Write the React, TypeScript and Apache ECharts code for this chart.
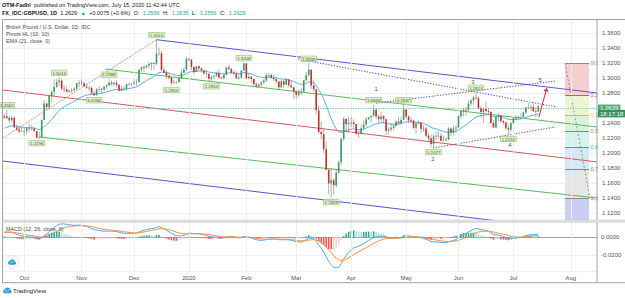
import React, { useEffect, useRef } from "react";
import * as echarts from "echarts";

// ---------- DATA ----------
const FIRST_DATE = "2019-09-19";
const FUTURE_BARS = 23;
const FIRST_OPEN = 1.2475;

const closes = [
  // Sep 2019
  1.2495, 1.2470, 1.2440, 1.2475, 1.2345, 1.2320, 1.2290, 1.2295,
  // Oct
  1.2295, 1.2335, 1.2330, 1.2330, 1.2295, 1.2210, 1.2210, 1.2445, 1.2665, 1.2615, 1.2765, 1.2820, 1.2885, 1.2950, 1.2970, 1.2860, 1.2855, 1.2820, 1.2835, 1.2845, 1.2860, 1.2935, 1.2940,
  // Nov
  1.2935, 1.2890, 1.2875, 1.2870, 1.2800, 1.2775, 1.2855, 1.2855, 1.2850, 1.2890, 1.2905, 1.2940, 1.2925, 1.2940, 1.2910, 1.2835, 1.2860, 1.2860, 1.2925, 1.2920, 1.2930,
  // Dec
  1.2945, 1.2950, 1.3115, 1.3150, 1.3145, 1.3170, 1.3190, 1.3205, 1.3195, 1.3330, 1.3335, 1.3110, 1.3075, 1.3035, 1.3010, 1.2940, 1.2945, 1.2950, 1.3000, 1.3075, 1.3115, 1.3260,
  // Jan 2020
  1.3250, 1.3150, 1.3085, 1.3160, 1.3130, 1.3105, 1.3065, 1.3060, 1.2995, 1.3020, 1.3035, 1.3070, 1.3010, 1.3005, 1.3045, 1.3145, 1.3125, 1.3075, 1.3060, 1.3000, 1.3010, 1.3105, 1.3200,
  // Feb
  1.3000, 1.3020, 1.2990, 1.2920, 1.2895, 1.2915, 1.2945, 1.2970, 1.3045, 1.3045, 1.3005, 1.2990, 1.2960, 1.2880, 1.2960, 1.2915, 1.2985, 1.2905, 1.2880, 1.2825,
  // Mar
  1.2780, 1.2815, 1.2825, 1.2975, 1.3045, 1.3115, 1.2905, 1.2855, 1.2575, 1.2285, 1.2255, 1.2055, 1.1780, 1.1600, 1.1640, 1.1575, 1.1745, 1.1880, 1.2190, 1.2460, 1.2390, 1.2405,
  // Apr
  1.2410, 1.2390, 1.2265, 1.2265, 1.2335, 1.2385, 1.2455, 1.2480, 1.2500, 1.2580, 1.2490, 1.2455, 1.2495, 1.2455, 1.2300, 1.2320, 1.2340, 1.2365, 1.2425, 1.2400, 1.2445, 1.2585,
  // May
  1.2490, 1.2440, 1.2435, 1.2340, 1.2400, 1.2410, 1.2325, 1.2330, 1.2235, 1.2200, 1.2125, 1.2225, 1.2235, 1.2235, 1.2165, 1.2170, 1.2185, 1.2330, 1.2275, 1.2330, 1.2345,
  // Jun
  1.2495, 1.2565, 1.2580, 1.2575, 1.2665, 1.2705, 1.2745, 1.2735, 1.2600, 1.2550, 1.2590, 1.2565, 1.2550, 1.2405, 1.2345, 1.2485, 1.2505, 1.2430, 1.2410, 1.2335, 1.2315, 1.2405,
  // Jul
  1.2470, 1.2470, 1.2485, 1.2485, 1.2545, 1.2610, 1.2615, 1.2620, 1.2560, 1.2556, 1.2629,
];

const highs = [
  1.2530, 1.2582, 1.2500, 1.2500, 1.2490, 1.2385, 1.2355, 1.2345,
  1.2350, 1.2345, 1.2390, 1.2375, 1.2350, 1.2300, 1.2290, 1.2450, 1.2707, 1.2665, 1.2785, 1.2840, 1.2990, 1.2990, 1.3013, 1.3000, 1.2910, 1.2900, 1.2850, 1.2870, 1.2880, 1.2940, 1.2975,
  1.2985, 1.2955, 1.2925, 1.2895, 1.2895, 1.2830, 1.2870, 1.2895, 1.2875, 1.2895, 1.2925, 1.2988, 1.2975, 1.2955, 1.2975, 1.2925, 1.2895, 1.2900, 1.2930, 1.2945, 1.2935,
  1.2985, 1.2990, 1.3120, 1.3155, 1.3175, 1.3180, 1.3215, 1.3215, 1.3215, 1.3515, 1.3400, 1.3365, 1.3150, 1.3110, 1.3065, 1.3010, 1.2980, 1.2960, 1.3020, 1.3120, 1.3145, 1.3285,
  1.3260, 1.3250, 1.3155, 1.3165, 1.3175, 1.3150, 1.3120, 1.3110, 1.3060, 1.3035, 1.3045, 1.3090, 1.3120, 1.3025, 1.3070, 1.3150, 1.3175, 1.3140, 1.3105, 1.3095, 1.3050, 1.3110, 1.3208,
  1.3200, 1.3070, 1.3030, 1.2990, 1.2945, 1.2940, 1.2965, 1.2990, 1.3070, 1.3070, 1.3060, 1.3045, 1.3000, 1.2970, 1.2980, 1.2975, 1.3000, 1.2985, 1.2975, 1.2885,
  1.2835, 1.2855, 1.2875, 1.2980, 1.3085, 1.3200, 1.3120, 1.2985, 1.2860, 1.2640, 1.2425, 1.2330, 1.2160, 1.1790, 1.1810, 1.1670, 1.1790, 1.1915, 1.2205, 1.2485, 1.2455, 1.2485,
  1.2485, 1.2455, 1.2390, 1.2310, 1.2385, 1.2435, 1.2485, 1.2490, 1.2500, 1.2648, 1.2600, 1.2520, 1.2550, 1.2515, 1.2460, 1.2350, 1.2405, 1.2390, 1.2435, 1.2485, 1.2485, 1.2647,
  1.2585, 1.2505, 1.2480, 1.2450, 1.2415, 1.2440, 1.2420, 1.2375, 1.2350, 1.2275, 1.2250, 1.2260, 1.2295, 1.2295, 1.2270, 1.2240, 1.2210, 1.2350, 1.2350, 1.2370, 1.2375,
  1.2510, 1.2585, 1.2595, 1.2615, 1.2710, 1.2730, 1.2770, 1.2813, 1.2760, 1.2630, 1.2590, 1.2690, 1.2605, 1.2560, 1.2450, 1.2490, 1.2540, 1.2505, 1.2450, 1.2420, 1.2370, 1.2410,
  1.2480, 1.2510, 1.2500, 1.2530, 1.2550, 1.2615, 1.2670, 1.2650, 1.2670, 1.2610, 1.2635,
];

const lows = [
  1.2455, 1.2455, 1.2405, 1.2425, 1.2340, 1.2295, 1.2270, 1.2285,
  1.2230, 1.2255, 1.2290, 1.2305, 1.2290, 1.2196, 1.2205, 1.2205, 1.2440, 1.2580, 1.2600, 1.2680, 1.2760, 1.2875, 1.2900, 1.2840, 1.2810, 1.2815, 1.2805, 1.2805, 1.2820, 1.2840, 1.2880,
  1.2900, 1.2880, 1.2855, 1.2830, 1.2790, 1.2768, 1.2770, 1.2820, 1.2800, 1.2825, 1.2860, 1.2895, 1.2905, 1.2895, 1.2880, 1.2820, 1.2825, 1.2830, 1.2840, 1.2905, 1.2895,
  1.2905, 1.2900, 1.2945, 1.3090, 1.3085, 1.3130, 1.3120, 1.3110, 1.3120, 1.3175, 1.3295, 1.3100, 1.3065, 1.2995, 1.2990, 1.2905, 1.2920, 1.2930, 1.2935, 1.2990, 1.3070, 1.3100,
  1.3230, 1.3110, 1.3050, 1.3080, 1.3110, 1.3075, 1.3050, 1.3010, 1.2960, 1.2954, 1.2990, 1.3015, 1.3000, 1.2990, 1.2980, 1.3040, 1.3110, 1.3060, 1.3045, 1.2995, 1.2975, 1.2990, 1.3100,
  1.2990, 1.2985, 1.2935, 1.2905, 1.2870, 1.2870, 1.2890, 1.2925, 1.2950, 1.3000, 1.3000, 1.2970, 1.2925, 1.2850, 1.2870, 1.2870, 1.2910, 1.2890, 1.2870, 1.2725,
  1.2725, 1.2750, 1.2775, 1.2815, 1.2965, 1.3020, 1.2855, 1.2815, 1.2520, 1.2260, 1.2185, 1.2000, 1.1780, 1.1450, 1.1409, 1.1450, 1.1540, 1.1720, 1.1840, 1.2165, 1.2300, 1.2285,
  1.2350, 1.2340, 1.2240, 1.2205, 1.2250, 1.2300, 1.2355, 1.2440, 1.2410, 1.2490, 1.2455, 1.2405, 1.2415, 1.2400, 1.2245, 1.2250, 1.2290, 1.2310, 1.2355, 1.2390, 1.2380, 1.2440,
  1.2460, 1.2405, 1.2400, 1.2320, 1.2265, 1.2385, 1.2265, 1.2285, 1.2210, 1.2165, 1.2080, 1.2077, 1.2175, 1.2205, 1.2165, 1.2160, 1.2165, 1.2175, 1.2230, 1.2240, 1.2275,
  1.2340, 1.2460, 1.2495, 1.2500, 1.2560, 1.2635, 1.2645, 1.2710, 1.2595, 1.2480, 1.2410, 1.2540, 1.2515, 1.2395, 1.2335, 1.2335, 1.2425, 1.2410, 1.2380, 1.2320, 1.2252, 1.2290,
  1.2395, 1.2440, 1.2455, 1.2465, 1.2480, 1.2525, 1.2590, 1.2560, 1.2555, 1.2480, 1.2556,
];

// Pivots HL (10,10): bar indices of labelled pivot highs / lows
const pivotHighIdx = [1, 22, 42, 61, 96, 122, 148, 160, 189];
const pivotLowIdx = [13, 36, 67, 83, 131, 172, 202];

// indicator seeds (state of the averages before the first visible bar)
const EMA21_SEED = 1.232;
const EMA12_SEED = 1.2385;
const EMA26_SEED = 1.233;
const SIGNAL_SEED = 0.0048;

// drawings anchored in (bar index, price): [bar1, price1, bar2, price2]
const channelTop = [61, 1.3515, 237.5, 1.2804];
const channelMid = [-0.5, 1.2844, 237.5, 1.1885];
const channelBottom = [-0.5, 1.1897, 237.5, 1.0938];
const redDiagonal = [-0.5, 1.2204, 61, 1.3515];
const greenUpper = [40.4, 1.3124, 237.5, 1.2351];
const greenLower = [14.3, 1.2217, 237.5, 1.1404];
const dottedA = [117.7, 1.3257, 221.5, 1.2617];
const dottedB = [149.0, 1.2669, 220.7, 1.2963];
const dottedC = [171.8, 1.2071, 220.7, 1.2351];
const arrowLine = [214.2, 1.2484, 217.4, 1.2871];
const fibBars = [224.7, 234.3];
const fibHigh = 1.32;
const fibLow = 1.14;
const fibLevels = [0, 0.236, 0.382, 0.5, 0.618, 0.786, 1, 1.618];
const fibLabels = ["0(1", "0.2", "0.3", "0.5", "0.6", "0.7", "1(1", ""];
const fibTrend = [224.7, 1.32, 234.7, 1.1404];
const waveNames = ["1", "2", "3", "4", "5"];
const waveBars = [149, 171.8, 187.8, 202.6, 214.7];
const wavePrices = [1.2857, 1.1924, 1.2945, 1.2111, 1.2977];

const MONTHS = ["2020", "Feb", "Mar", "Apr", "May", "Jun", "Jul", "Aug", "Sep", "Oct", "Nov", "Dec"];

// ---------- STYLE ----------
const FONT = '"Liberation Sans", Arial, sans-serif';
const AXIS_TXT = "#50535e";
const UP = "#3f9a62";
const DOWN = "#c8312c";
const WICK = "#7d7d7d";
const FRAME = "#a3a3a3";
const Y_MIN = 1.1111;
const Y_MAX = 1.3791;
const M_MIN = -0.0389;
const M_MAX = 0.0173;

const fibLineColors = ["#8c8c8c", "#e0524f", "#b2cc3a", "#4caf50", "#22b59c", "#3d98de", "#8c8c8c", "#5b5bd6"];
const fibZoneColors = ["#f6cfd1", "#ecf6d2", "#daf3dd", "#d6f2ec", "#d6e8f6", "#e6e6e6", "#cccdf2"];

const CLOUD =
  "M3 8C1.3 8 0 6.8 0 5.3C0 3.9 1.1 2.8 2.5 2.7C3.1 1.1 4.6 0 6.4 0C8.6 0 10.3 1.6 10.5 3.7C11.4 4 12 4.9 12 5.9C12 7.1 11.1 8 9.9 8Z";
echarts.graphic.registerShape("tvCloud", echarts.graphic.extendPath(CLOUD, {}) as any);

function buildDates(n: number): string[] {
  const out: string[] = [];
  let t = Date.parse(FIRST_DATE + "T00:00:00Z");
  while (out.length < n) {
    const wd = new Date(t).getUTCDay();
    if (wd !== 0 && wd !== 6) out.push(new Date(t).toISOString().slice(0, 10));
    t += 86400000;
  }
  return out;
}

function lineSeries(seg: number[], color: string, type: any, width = 1, z = 4) {
  return {
    type: "line",
    xAxisIndex: 0,
    yAxisIndex: 0,
    data: [
      [seg[0], seg[1]],
      [seg[2], seg[3]],
    ],
    showSymbol: false,
    symbol: "none",
    silent: true,
    z,
    lineStyle: { color, width, type },
    clip: true,
  };
}

function buildOption() {
  const n = closes.length;
  const total = n + FUTURE_BARS;
  const dates = buildDates(total);
  const opens = closes.map((c, i) => (i === 0 ? FIRST_OPEN : closes[i - 1]));
  const candles = closes.map((c, i) => [i, opens[i], c, lows[i], highs[i]]);
  const last = closes[n - 1];

  // EMA 21
  const ema: number[][] = [];
  let e = EMA21_SEED;
  const k21 = 2 / 22;
  closes.forEach((c, i) => {
    e = e + k21 * (c - e);
    ema.push([i, e]);
  });

  // MACD 12 26 9
  let e12 = EMA12_SEED,
    e26 = EMA26_SEED,
    sig = SIGNAL_SEED;
  const macd: number[] = [];
  const signal: number[] = [];
  const hist: any[] = [];
  closes.forEach((c, i) => {
    e12 = e12 + (2 / 13) * (c - e12);
    e26 = e26 + (2 / 27) * (c - e26);
    const m = e12 - e26;
    sig = sig + (2 / 10) * (m - sig);
    const h = m - sig;
    macd.push(m);
    signal.push(sig);
    const hPrev = i === 0 ? 0 : hist[i - 1].value;
    let col;
    if (h >= 0) col = h > hPrev ? "#26a69a" : "#b2dfdb";
    else col = h > hPrev ? "#ffcdd2" : "#ff5252";
    hist.push({ value: h, itemStyle: { color: col } });
  });

  const monthStarts: number[] = [];
  for (let i = 1; i < dates.length; i++) {
    if (dates[i].slice(5, 7) !== dates[i - 1].slice(5, 7)) monthStarts.push(i);
  }
  const monthSet = new Set(monthStarts);
  const monthLabel = (v: string) => MONTHS[parseInt(v.slice(5, 7), 10) - 1];

  // Fib zones / lines
  const fibPrice = (lv: number) => fibHigh - lv * (fibHigh - fibLow);
  const fibAreas: any[] = [];
  for (let i = 0; i < fibLevels.length - 1; i++) {
    fibAreas.push([
      { xAxis: fibBars[0], yAxis: fibPrice(fibLevels[i]), itemStyle: { color: fibZoneColors[i] } },
      { xAxis: fibBars[1], yAxis: Math.max(Y_MIN, fibPrice(fibLevels[i + 1])) },
    ]);
  }
  const fibLines: any[] = [];
  for (let i = 0; i < fibLevels.length - 1; i++) {
    const p = fibPrice(fibLevels[i]);
    fibLines.push([
      {
        coord: [fibBars[0], p],
        lineStyle: { color: fibLineColors[i], width: 1, type: "solid" },
        label: { show: true, formatter: fibLabels[i], color: fibLineColors[i], fontSize: 5.5, fontFamily: FONT, position: "end", distance: 1.5 },
      },
      { coord: [fibBars[1], p] },
    ]);
  }

  const pivotLabel = {
    show: true,
    fontSize: 4.4,
    fontFamily: FONT,
    color: "#1e3312",
    backgroundColor: "#d3ebbd",
    borderColor: "#86b85c",
    borderWidth: 0.5,
    padding: [0.8, 1, 0.3, 1],
    formatter: (p: any) => p.value[1].toFixed(4),
  };

  const txt = (text: string, x: number, y: number, size: number, color: string, extra: any = {}) => ({
    type: "text",
    x,
    y,
    silent: true,
    z: 50,
    style: { text, fill: color, font: `${size}px ${FONT}`, textVerticalAlign: "middle", ...extra },
  });
  const ln = (x1: number, y1: number, x2: number, y2: number, color = FRAME, w = 1) => ({
    type: "line",
    silent: true,
    z: 40,
    shape: { x1, y1, x2, y2 },
    style: { stroke: color, lineWidth: w },
  });

  return {
    animation: false,
    backgroundColor: "#ffffff",
    textStyle: { fontFamily: FONT },
    grid: [
      { left: 3, right: 28, top: 19, height: 201 },
      { left: 3, right: 28, top: 222, height: 49.7 },
    ],
    xAxis: [
      { type: "value", gridIndex: 0, min: -0.5, max: total - 0.5, show: false },
      {
        type: "category",
        gridIndex: 1,
        data: dates,
        boundaryGap: true,
        axisLine: { show: true, lineStyle: { color: FRAME, width: 1 } },
        axisTick: { show: true, interval: (i: number) => monthSet.has(i), length: 2, alignWithLabel: true, lineStyle: { color: FRAME } },
        axisLabel: {
          interval: (i: number) => monthSet.has(i),
          formatter: (v: string) => monthLabel(v),
          fontSize: 6,
          color: AXIS_TXT,
          margin: 3,
          fontFamily: FONT,
        },
        splitLine: { show: false },
      },
    ],
    yAxis: [
      {
        type: "value",
        gridIndex: 0,
        position: "right",
        min: Y_MIN,
        max: Y_MAX,
        splitNumber: 13,
        minInterval: 0.02,
        maxInterval: 0.02,
        axisLine: { show: false },
        axisTick: { show: false },
        axisLabel: {
          fontSize: 6,
          color: AXIS_TXT,
          margin: 5,
          fontFamily: FONT,
          showMinLabel: false,
          showMaxLabel: false,
          // the tick hidden under the last-price tag is not drawn
          formatter: (v: number) => (Math.abs(v - last) < 0.008 ? "" : v.toFixed(4)),
        },
        splitLine: { show: true, lineStyle: { color: "#eff1f5", width: 1 } },
      },
      {
        type: "value",
        gridIndex: 1,
        position: "right",
        min: M_MIN,
        max: M_MAX,
        splitNumber: 3,
        minInterval: 0.02,
        maxInterval: 0.02,
        axisLine: { show: false },
        axisTick: { show: false },
        axisLabel: { fontSize: 6, color: AXIS_TXT, margin: 4, fontFamily: FONT, showMinLabel: false, showMaxLabel: false, formatter: (v: number) => v.toFixed(4) },
        splitLine: { show: true, lineStyle: { color: "#eff1f5", width: 1 } },
      },
    ],
    series: [
      // month grid lines + fib zones (background)
      {
        type: "line",
        xAxisIndex: 0,
        yAxisIndex: 0,
        data: [],
        z: 1,
        silent: true,
        markLine: {
          silent: true,
          symbol: "none",
          label: { show: false },
          lineStyle: { color: "#eceef2", width: 1, type: "solid" },
          data: monthStarts.map((i) => ({ xAxis: i })),
        },
        markArea: { silent: true, data: fibAreas },
      },
      {
        type: "line",
        xAxisIndex: 0,
        yAxisIndex: 0,
        data: [],
        z: 2,
        silent: true,
        markLine: { silent: true, symbol: "none", data: fibLines },
      },
      // channels / trend lines
      lineSeries(channelTop, "#5757c9", "solid"),
      lineSeries(channelBottom, "#5757c9", "solid"),
      lineSeries(channelMid, "#d05a5a", "solid"),
      lineSeries(redDiagonal, "#e06a6a", [2, 1], 0.8),
      lineSeries(greenUpper, "#5cb860", "solid"),
      lineSeries(greenLower, "#5cb860", "solid"),
      lineSeries(fibTrend, "#7a7a7a", [2, 2], 0.8),
      lineSeries(dottedA, "#3f3fe6", [1.2, 1.6]),
      lineSeries(dottedB, "#3f3fe6", [1.2, 1.6]),
      lineSeries(dottedC, "#3f3fe6", [1.2, 1.6]),
      // EMA
      {
        type: "line",
        xAxisIndex: 0,
        yAxisIndex: 0,
        data: ema,
        showSymbol: false,
        symbol: "none",
        silent: true,
        z: 5,
        lineStyle: { color: "#5ab0ef", width: 1 },
      },
      // candles
      {
        type: "custom",
        xAxisIndex: 0,
        yAxisIndex: 0,
        z: 6,
        silent: true,
        clip: true,
        encode: { x: 0, y: [1, 2, 3, 4] },
        data: candles,
        renderItem: (params: any, api: any) => {
          const i = api.value(0);
          const o = api.value(1);
          const c = api.value(2);
          const l = api.value(3);
          const h = api.value(4);
          const top = api.coord([i, Math.max(o, c)]);
          const bot = api.coord([i, Math.min(o, c)]);
          const hi = api.coord([i, h]);
          const lo = api.coord([i, l]);
          const bw = api.size([1, 0])[0] * 0.64;
          const col = c >= o ? UP : DOWN;
          return {
            type: "group",
            children: [
              { type: "line", shape: { x1: hi[0], y1: hi[1], x2: lo[0], y2: lo[1] }, style: { stroke: WICK, lineWidth: 0.6 } },
              {
                type: "rect",
                shape: { x: top[0] - bw / 2, y: top[1], width: bw, height: Math.max(0.6, bot[1] - top[1]) },
                style: { fill: col },
              },
            ],
          };
        },
        markLine: {
          silent: true,
          symbol: "none",
          data: [
            {
              yAxis: last,
              lineStyle: { color: "#6fc08f", width: 1, type: [1, 1.5] },
              label: {
                show: true,
                position: "end",
                distance: 1,
                formatter: last.toFixed(4),
                color: "#ffffff",
                backgroundColor: "#4daa70",
                padding: [1, 2, 0.5, 2],
                fontSize: 6,
                fontFamily: FONT,
              },
            },
          ],
        },
      },
      // red arrow
      {
        type: "line",
        xAxisIndex: 0,
        yAxisIndex: 0,
        data: [],
        z: 7,
        silent: true,
        markLine: {
          silent: true,
          symbol: ["none", "arrow"],
          symbolSize: 4,
          label: { show: false },
          lineStyle: { color: "#e5262b", width: 1, type: "solid" },
          data: [[{ coord: [arrowLine[0], arrowLine[1]] }, { coord: [arrowLine[2], arrowLine[3]] }]],
        },
      },
      // pivot labels
      {
        type: "scatter",
        xAxisIndex: 0,
        yAxisIndex: 0,
        symbolSize: 0,
        z: 8,
        silent: true,
        data: pivotHighIdx.map((i) => [i, highs[i]]),
        label: { ...pivotLabel, position: "top", distance: 2 },
      },
      {
        type: "scatter",
        xAxisIndex: 0,
        yAxisIndex: 0,
        symbolSize: 0,
        z: 8,
        silent: true,
        data: pivotLowIdx.map((i) => [i, lows[i]]),
        label: { ...pivotLabel, position: "bottom", distance: 2 },
      },
      // wave labels
      {
        type: "scatter",
        xAxisIndex: 0,
        yAxisIndex: 0,
        symbolSize: 0,
        z: 8,
        silent: true,
        data: waveNames.map((nm, i) => ({ name: nm, value: [waveBars[i], wavePrices[i]] })),
        label: { show: true, position: "inside", formatter: (p: any) => p.name, fontSize: 6, color: "#222", fontFamily: FONT },
      },
      // MACD pane
      {
        type: "line",
        xAxisIndex: 1,
        yAxisIndex: 1,
        data: [],
        z: 1,
        silent: true,
        markLine: {
          silent: true,
          symbol: "none",
          label: { show: false },
          lineStyle: { color: "#eceef2", width: 1, type: "solid" },
          data: monthStarts.map((i) => ({ xAxis: dates[i] })),
        },
      },
      { type: "bar", xAxisIndex: 1, yAxisIndex: 1, data: hist, barWidth: "62%", silent: true, z: 3 },
      {
        type: "line",
        xAxisIndex: 1,
        yAxisIndex: 1,
        data: macd,
        showSymbol: false,
        symbol: "none",
        silent: true,
        z: 4,
        lineStyle: { color: "#4aa8f0", width: 1 },
      },
      {
        type: "line",
        xAxisIndex: 1,
        yAxisIndex: 1,
        data: signal,
        showSymbol: false,
        symbol: "none",
        silent: true,
        z: 4,
        lineStyle: { color: "#ff8c3a", width: 1 },
      },
    ],
    graphic: [
      // header
      {
        type: "text",
        x: 2,
        y: 4.5,
        silent: true,
        style: {
          text: "{b|OTM-Fadhl} {n|published on TradingView.com, July 15, 2020 11:42:44 UTC}",
          textVerticalAlign: "middle",
          rich: {
            b: { font: `bold 5.5px ${FONT}`, fill: "#131722" },
            n: { font: `5.5px ${FONT}`, fill: "#131722" },
          },
        },
      },
      {
        type: "text",
        x: 2,
        y: 12.5,
        silent: true,
        style: {
          text: "{b|FX_IDC:GBPUSD, 1D} {n|1.2629} {g|▲} {n|+0.0075 (+0.6%)} {n|O:} {g|1.2556} {n|H:} {g|1.2635} {n|L:} {g|1.2556} {n|C:} {g|1.2629}",
          textVerticalAlign: "middle",
          rich: {
            b: { font: `bold 5.5px ${FONT}`, fill: "#131722" },
            n: { font: `5.5px ${FONT}`, fill: "#131722" },
            g: { font: `5.5px ${FONT}`, fill: "#26a69a" },
          },
        },
      },
      // frame
      ln(2.5, 19.5, 625, 19.5),
      ln(2.5, 19, 2.5, 283),
      ln(597, 19, 597, 283),
      ln(2.5, 282.7, 625, 282.7),
      { type: "rect", silent: true, z: 41, shape: { x: 2.5, y: 220, width: 622.5, height: 2.2 }, style: { fill: "#e2e2e2", stroke: "#c9c9c9", lineWidth: 0.5 } },
      // pane legends
      txt("British Pound / U.S. Dollar, 1D, IDC", 6, 26.5, 5.4, "#4a4d57"),
      txt("Pivots HL (10, 10)", 6, 33.5, 5.4, "#4a4d57"),
      txt("EMA (21, close, 0)", 6, 40.5, 5.4, "#4a4d57"),
      txt("MACD (12, 26, close, 9)", 6, 228.5, 5.4, "#4a4d57"),
      // countdown box under price label
      {
        type: "text",
        x: 598,
        y: 113.6,
        silent: true,
        z: 60,
        style: { text: "18:17:18", fill: "#ffffff", font: `6px ${FONT}`, textVerticalAlign: "middle", backgroundColor: "#3e8f5c", padding: [1, 2, 0.5, 2] },
      },
      // MACD-pane round logo
      { type: "circle", silent: true, z: 45, shape: { cx: 12, cy: 262, r: 6.5 }, style: { fill: "#ffffff", stroke: "#d5d5d5", lineWidth: 0.6 } },
      { type: "tvCloud", silent: true, z: 46, x: 8, y: 259.3, scaleX: 0.67, scaleY: 0.67, style: { fill: "#2e9de8" } },
      { type: "polyline", silent: true, z: 47, shape: { points: [[9.6, 263.2], [11, 261.6], [12.3, 262.6], [14.3, 260.8]] }, style: { stroke: "#fff", lineWidth: 0.6, fill: null } },
      // footer logo
      { type: "tvCloud", silent: true, z: 46, x: 3, y: 287.6, scaleX: 0.72, scaleY: 0.72, style: { fill: "#2e9de8" } },
      { type: "polyline", silent: true, z: 47, shape: { points: [[4.8, 291.8], [6.3, 290.1], [7.6, 291.1], [9.7, 289.2]] }, style: { stroke: "#fff", lineWidth: 0.6, fill: null } },
      txt("TradingView", 13, 291, 6, "#131722"),
    ],
  };
}

export default function App() {
  const ref = useRef<HTMLDivElement>(null);
  useEffect(() => {
    if (!ref.current) return;
    const chart = echarts.init(ref.current, undefined, { renderer: "svg" });
    chart.setOption(buildOption() as any);
    return () => chart.dispose();
  }, []);
  return <div ref={ref} style={{ position: "fixed", left: 0, top: 0, width: 625, height: 298, background: "#fff" }} />;
}
